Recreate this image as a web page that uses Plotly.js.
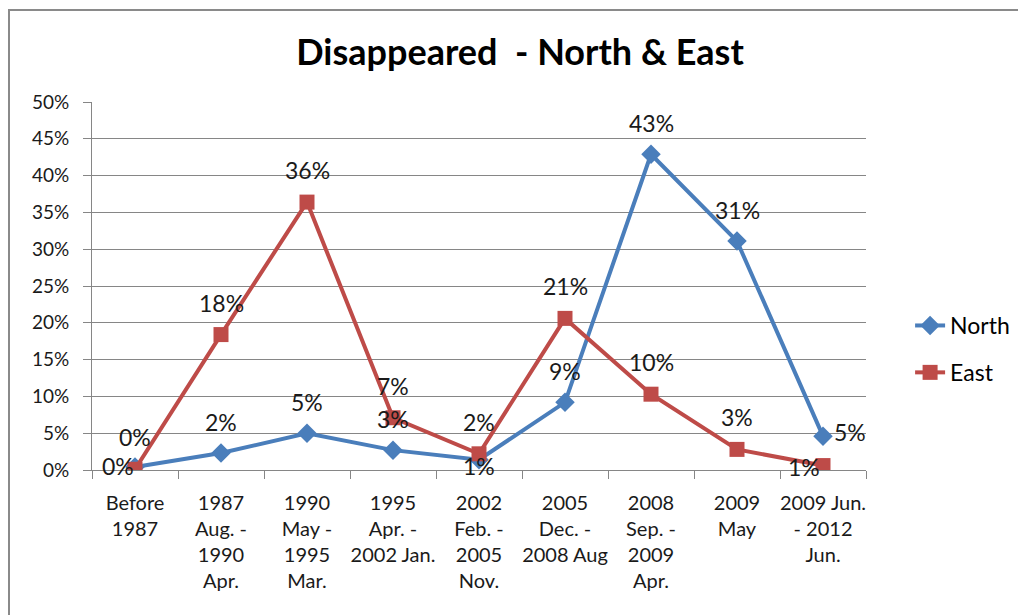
<!DOCTYPE html>
<html>
<head>
<meta charset="utf-8">
<script src="https://cdn.plot.ly/plotly-3.0.1.min.js"></script>
<style>
html,body{margin:0;padding:0;background:#fff;overflow:hidden;}
#chart{position:absolute;left:0;top:0;width:1018px;height:615px;}
#frame{position:absolute;left:8px;top:9px;width:1100px;height:700px;border-left:2px solid #8a8a8a;border-top:2px solid #8a8a8a;pointer-events:none;}
</style>
</head>
<body>
<div id="chart"></div>
<div id="frame"></div>
<script>
// ---- data ----
const categories = [
  "Before<br>1987",
  "1987<br>Aug. -<br>1990<br>Apr.",
  "1990<br>May -<br>1995<br>Mar.",
  "1995<br>Apr. -<br>2002 Jan.",
  "2002<br>Feb. -<br>2005<br>Nov.",
  "2005<br>Dec. -<br>2008 Aug",
  "2008<br>Sep. -<br>2009<br>Apr.",
  "2009<br>May",
  "2009 Jun.<br>- 2012<br>Jun."
];
const northValues = [0.4, 2.3, 5.0, 2.7, 1.4, 9.2, 42.9, 31.1, 4.6];
const eastValues  = [0.1, 18.4, 36.4, 7.1, 2.2, 20.6, 10.3, 2.8, 0.6];
const yTickValues = [0, 5, 10, 15, 20, 25, 30, 35, 40, 45, 50];

// label placement (style only)
const northLabelPos = ["left", "top", "top", "top", "below", "top", "top", "top", "right"];
const eastLabelPos  = ["top", "top", "top", "top", "top", "top", "top", "top", "left"];

const northColor = "#4A7EBB";
const eastColor = "#BE4B48";
const font = "Lato, 'Open Sans', sans-serif";

const shifts = {
  top:   {x: 0, y: 31},
  left:  {x: -17, y: 1},
  right: {x: 27, y: 4},
  below: {x: 0, y: -6}
};
const shiftsEast = {
  top:   {x: 0, y: 32},
  left:  {x: -19, y: -1}
};

function labels(values, pos, table) {
  return values.map((v, i) => ({
    x: categories[i], y: v, xref: "x", yref: "y",
    text: Math.round(v) + "%",
    showarrow: false,
    xshift: table[pos[i]].x, yshift: table[pos[i]].y,
    font: {family: font, size: 23, color: "#1a1a1a"}
  }));
}

const traces = [
  {
    type: "scatter", mode: "lines+markers", name: "North",
    x: categories, y: northValues, legendgroup: "n",
    line: {color: northColor, width: 4},
    marker: {symbol: "diamond", size: 15, color: northColor}
  },
  {
    type: "scatter", mode: "lines+markers", name: "East",
    x: categories, y: eastValues, legendgroup: "e",
    line: {color: eastColor, width: 4},
    marker: {symbol: "square", size: 15, color: eastColor}
  }
];

const layout = {
  width: 1018, height: 615,
  margin: {l: 92, r: 152, t: 102, b: 145},
  paper_bgcolor: "#ffffff", plot_bgcolor: "#ffffff",
  font: {family: font, color: "#1a1a1a"},
  title: {
    text: "Disappeared\u00a0\u00a0- North & East",
    font: {family: font, size: 36, color: "#000", weight: "bold"},
    x: 0.553, xanchor: "center", y: 0.915, yanchor: "middle", xref: "paper", yref: "container"
  },
  xaxis: {
    type: "category", tickson: "boundaries", ticks: "outside", ticklen: 8,
    tickcolor: "#868686", showline: true, linecolor: "#868686", linewidth: 1,
    showgrid: false, tickfont: {family: font, size: 20, color: "#1a1a1a"},
    tickangle: 0, range: [-0.5, 8.5], ticklabelstandoff: 15, fixedrange: true
  },
  yaxis: {
    range: [0, 50], tickvals: yTickValues, ticktext: yTickValues.map(v => v + "%"),
    ticks: "outside", ticklen: 8, tickcolor: "#868686",
    showline: true, linecolor: "#868686", linewidth: 1,
    showgrid: true, gridcolor: "#868686", gridwidth: 1, zeroline: false,
    tickfont: {family: font, size: 19, color: "#1a1a1a"}, ticklabelstandoff: 10, fixedrange: true
  },
  legend: {
    xref: "container", yref: "container",
    x: 0.894, xanchor: "left", y: 0.4325, yanchor: "middle",
    font: {family: font, size: 23, color: "#000"},
    traceorder: "grouped", tracegroupgap: 14, bgcolor: "rgba(0,0,0,0)"
  },
  annotations: labels(northValues, northLabelPos, shifts).concat(labels(eastValues, eastLabelPos, shiftsEast))
};

Plotly.newPlot("chart", traces, layout, {displayModeBar: false, staticPlot: true});
</script>
</body>
</html>
